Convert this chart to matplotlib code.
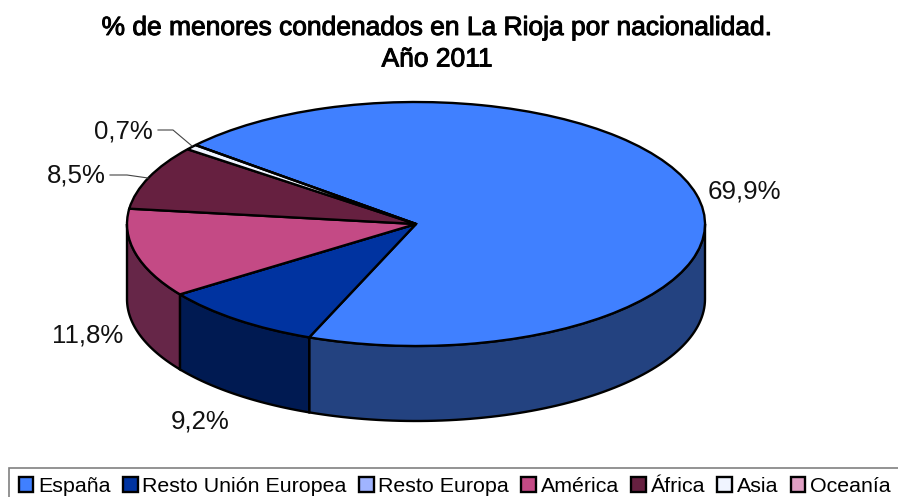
import numpy as np
import matplotlib
matplotlib.use('Agg')
from matplotlib import pyplot as plt
from matplotlib.patches import Patch
import matplotlib.patheffects as pe

plt.rcParams['font.family'] = ['Liberation Sans', 'DejaVu Sans']

categories = ['España', 'Resto Unión Europea', 'Resto Europa', 'América', 'África', 'Asia', 'Oceanía']
values = [69.9, 9.2, 0.0, 11.8, 8.5, 0.7, 0.0]
top_colors = ['#4080FF', '#0033A0', '#A0B4FF', '#C44A85', '#662040', '#F0F4FF', '#E0A0C4']
side_colors = ['#234280', '#001A52', '#58628C', '#662648', '#38122A', '#848690', '#7A586C']

W, H = 898, 497
RX, RY = 289, 122      # ellipse radii in pixels
CX, CY = 416, 224      # pie centre in pixels
DEPTH = 75 / RY


def px(x, y):
    # pixel position of the picture -> data units of the pie
    return (x - CX) / RX, (CY - y) / RY


fig = plt.figure(figsize=(W / 100, H / 100), dpi=100)
ax = fig.add_axes([0, 0, 1, 1])

wedges, _ = ax.pie(values, colors=top_colors, startangle=139.7, counterclock=False, radius=1,
                   wedgeprops={'edgecolor': 'black', 'linewidth': 1.7, 'zorder': 3})
ax.set_aspect('auto')
ax.set_xlim(-CX / RX, (W - CX) / RX)
ax.set_ylim((CY - H) / RY, CY / RY)

# side wall, only the front half of the ellipse shows
for w, c in zip(wedges, side_colors):
    for shift in (-360, 0, 360):
        a = max(w.theta1 + shift, 180)
        b = min(w.theta2 + shift, 360)
        if b <= a:
            continue
        t = np.radians(np.linspace(a, b, 80))
        xs = np.concatenate([np.cos(t), np.cos(t[::-1])])
        ys = np.concatenate([np.sin(t), np.sin(t[::-1]) - DEPTH])
        ax.fill(xs, ys, facecolor=c, edgecolor='black', linewidth=1.7, zorder=2)

# value labels
label_pos = [(744, 191), (200, 421.5), None, (88, 335.5), (76, 176), (123, 131.5), None]
for v, p in zip(values, label_pos):
    if p is None:
        continue
    x, y = px(*p)
    ax.text(x, y, f'{v:.1f}'.replace('.', ',') + '%', fontsize=18.6, color='#111111',
            ha='center', va='center', zorder=5)

# leader lines
for line in ([(158, 130), (173, 130), (192, 146)], [(110, 175), (127, 175), (148, 178)]):
    pts = [px(*q) for q in line]
    ax.plot([q[0] for q in pts], [q[1] for q in pts], color='#444444', linewidth=0.8, zorder=4)

# title
tx, ty = px(437, 28)
ax.text(tx, ty, '% de menores condenados en La Rioja por nacionalidad.', fontsize=19, ha='center', va='center',
        path_effects=[pe.withStroke(linewidth=0.7, foreground='black')])
tx, ty = px(437, 59.5)
ax.text(tx, ty, 'Año 2011', fontsize=19, ha='center', va='center',
        path_effects=[pe.withStroke(linewidth=0.7, foreground='black')])

# legend, its frame runs past the bottom and right of the picture
handles = [Patch(facecolor=c, edgecolor='black', linewidth=1.7) for c in top_colors]
lx, ly = px(9, 467.5)
ax.legend(handles, categories, loc='upper left', bbox_to_anchor=(lx, ly), bbox_transform=ax.transData,
          ncol=7, fontsize=15.4, frameon=True, fancybox=False, framealpha=1, edgecolor='#808080',
          handlelength=0.68, handleheight=0.68, handletextpad=0.23, columnspacing=0.57,
          borderaxespad=0, borderpad=0.46).get_frame().set_linewidth(1.2)

fig.savefig('out.png', dpi=100)
